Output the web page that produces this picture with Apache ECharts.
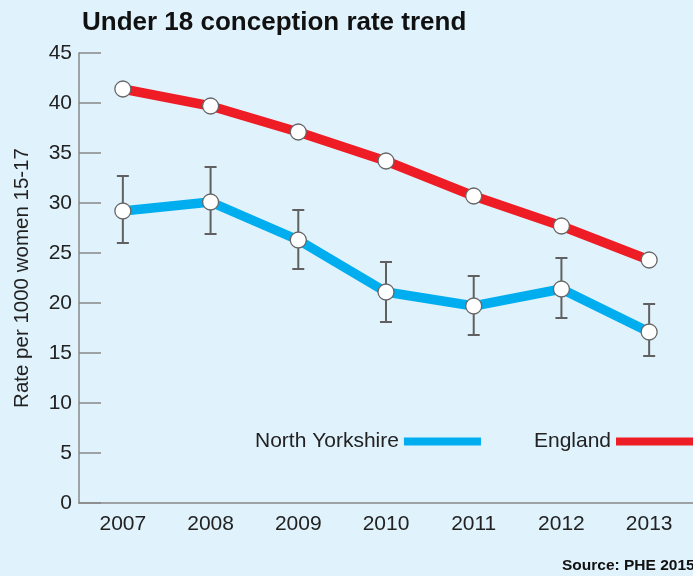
<!DOCTYPE html>
<html>
<head>
<meta charset="utf-8">
<script src="https://cdn.jsdelivr.net/npm/echarts@6/dist/echarts.min.js"></script>
<style>
  html, body { margin: 0; padding: 0; background: #e0f2fc; }
  #chart { width: 693px; height: 576px; }
</style>
</head>
<body>
<div id="chart"></div>
<script>
const years = ['2007', '2008', '2009', '2010', '2011', '2012', '2013']
const england = [41.4, 39.7, 37.1, 34.2, 30.7, 27.7, 24.3]
const northYorkshire = [29.2, 30.1, 26.3, 21.1, 19.7, 21.4, 17.1]
const nyLow = [26.0, 26.9, 23.4, 18.1, 16.8, 18.5, 14.7]
const nyHigh = [32.7, 33.6, 29.3, 24.1, 22.7, 24.5, 19.9]

const font = 'Liberation Sans, Arial, sans-serif'
const red = '#ee1c25'
const blue = '#00aeef'

let errData = years.map((y, i) => [i, nyLow[i], nyHigh[i]])

let myChart = echarts.init(document.getElementById('chart'))
let option = {
  backgroundColor: '#e0f2fc',
  animation: false,
  textStyle: { fontFamily: font },
  title: {
    text: 'Under 18 conception rate trend',
    left: 77,
    top: 5,
    textStyle: { fontSize: 26, fontWeight: 'bold', color: '#111', fontFamily: font }
  },
  legend: {
    left: 250,
    top: 426,
    align: 'right',
    itemWidth: 77,
    itemHeight: 8,
    itemGap: 53,
    textStyle: { fontSize: 21, color: '#222', fontFamily: font },
    data: [
      { name: 'North Yorkshire', icon: 'rect', itemStyle: { color: blue, borderWidth: 0 } },
      { name: 'England', icon: 'rect', itemStyle: { color: red, borderWidth: 0 } }
    ]
  },
  graphic: [
    {
      type: 'text',
      left: 562,
      top: 558,
      style: { text: 'Source: PHE 2015', font: 'bold 15.5px ' + font, fill: '#111' }
    }
  ],
  grid: { left: 79, right: -2, top: 53, bottom: 73 },
  xAxis: {
    type: 'category',
    data: years,
    axisLine: { lineStyle: { color: '#888', width: 1.5 } },
    axisTick: { inside: true, length: 10, lineStyle: { color: '#888', width: 1.5 } },
    axisLabel: { fontSize: 21, color: '#222', margin: 11 }
  },
  yAxis: {
    type: 'value',
    min: 0,
    max: 45,
    interval: 5,
    name: 'Rate per 1000 women 15-17',
    nameLocation: 'middle',
    nameGap: 46,
    nameTextStyle: { fontSize: 20.5, color: '#222' },
    axisLine: { show: true, lineStyle: { color: '#888', width: 1.5 } },
    axisTick: { show: true, inside: true, length: 22, lineStyle: { color: '#888', width: 1.5 } },
    axisLabel: { fontSize: 21, color: '#222', margin: 7 },
    splitLine: { show: false }
  },
  series: [
    {
      // 误差线
      type: 'custom',
      z: 1,
      silent: true,
      data: errData,
      renderItem(params, api) {
        let lo = api.coord([api.value(0), api.value(1)])
        let hi = api.coord([api.value(0), api.value(2)])
        let cap = 6
        let st = { stroke: '#606060', lineWidth: 2 }
        return {
          type: 'group',
          children: [
            { type: 'line', shape: { x1: lo[0], y1: lo[1], x2: hi[0], y2: hi[1] }, style: st },
            { type: 'line', shape: { x1: lo[0] - cap, y1: lo[1], x2: lo[0] + cap, y2: lo[1] }, style: st },
            { type: 'line', shape: { x1: hi[0] - cap, y1: hi[1], x2: hi[0] + cap, y2: hi[1] }, style: st }
          ]
        }
      }
    },
    {
      name: 'North Yorkshire',
      type: 'line',
      z: 3,
      data: northYorkshire,
      symbol: 'circle',
      symbolSize: 16,
      lineStyle: { color: blue, width: 9.5 },
      itemStyle: { color: '#fff', borderColor: '#666', borderWidth: 1.3 }
    },
    {
      name: 'England',
      type: 'line',
      z: 3,
      data: england,
      symbol: 'circle',
      symbolSize: 16,
      lineStyle: { color: red, width: 9.5 },
      itemStyle: { color: '#fff', borderColor: '#666', borderWidth: 1.3 }
    }
  ]
}
myChart.setOption(option)
</script>
</body>
</html>
